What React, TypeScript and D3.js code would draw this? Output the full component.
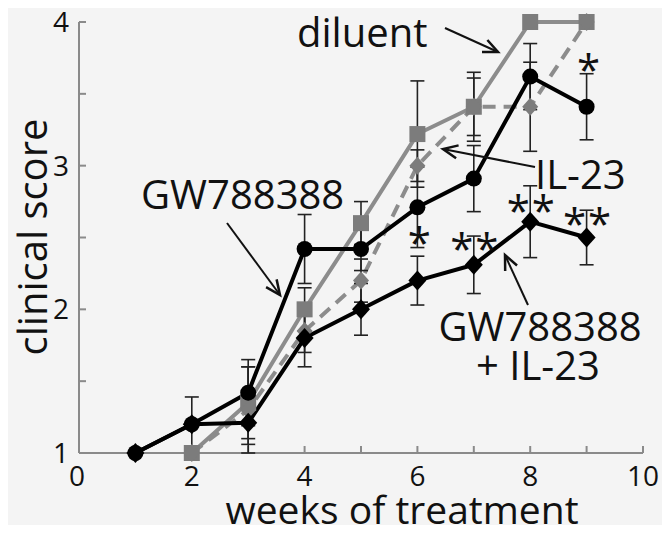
import React from "react";
import * as d3 from "d3";

const weeks = [1, 2, 3, 4, 5, 6, 7, 8, 9];
const diluent = [null, 1.0, 1.35, 2.0, 2.6, 3.22, 3.41, 4.0, 4.0];
const diluentErr = [0, 0, 0.25, 0.15, 0.15, 0.37, 0.24, 0, 0];
const il23 = [null, 1.0, 1.3, 1.85, 2.2, 3.0, 3.41, 3.41, 4.0];
const il23Err = [0, 0, 0.3, 0.15, 0.15, 0.11, 0.2, 0.31, 0];
const gw = [1.0, 1.2, 1.42, 2.42, 2.42, 2.71, 2.91, 3.62, 3.41];
const gwErr = [0, 0.19, 0.23, 0.24, 0.15, 0.28, 0.23, 0.23, 0.23];
const gwil = [1.0, 1.2, 1.21, 1.8, 2.0, 2.2, 2.31, 2.61, 2.5];
const gwilErr = [0, 0, 0.15, 0.2, 0.18, 0.17, 0.2, 0.25, 0.19];

const xTicks = [0, 2, 4, 6, 8, 10];
const yTicks = [1, 2, 3, 4];
const stars = [
  { week: 9, y: 3.74, n: 1 },
  { week: 6, y: 2.54, n: 1 },
  { week: 7, y: 2.5, n: 2 },
  { week: 8, y: 2.76, n: 2 },
  { week: 9, y: 2.67, n: 2 },
];

const FONT = "'Open Sans', 'Noto Sans', sans-serif";
const GRAY = "#8c8c8c";
const MARK_GRAY = "#7c7c7c";

function arrow(x1: number, y1: number, x2: number, y2: number, key: string) {
  const a = Math.atan2(y2 - y1, x2 - x1);
  const L = 16;
  const s = 0.42;
  const p1 = [x2 - L * Math.cos(a - s), y2 - L * Math.sin(a - s)];
  const p2 = [x2 - L * Math.cos(a + s), y2 - L * Math.sin(a + s)];
  return (
    <g key={key} stroke="#111" strokeWidth={2} fill="none">
      <line x1={x1} y1={y1} x2={x2} y2={y2} />
      <polyline points={`${p1[0]},${p1[1]} ${x2},${y2} ${p2[0]},${p2[1]}`} strokeWidth={2.5} />
    </g>
  );
}

export default function App() {
  const x = d3.scaleLinear().domain([0, 10]).range([79, 643]);
  const y = d3.scaleLinear().domain([1, 4]).range([453, 22]);

  const mk = (vals: (number | null)[]) =>
    weeks
      .map((w, i) => ({ w, v: vals[i] }))
      .filter((d) => d.v !== null) as { w: number; v: number }[];

  const line = d3
    .line<{ w: number; v: number }>()
    .x((d) => x(d.w))
    .y((d) => y(d.v));

  const series = [
    { data: mk(diluent), err: diluentErr, color: GRAY, dash: undefined, marker: "square" },
    { data: mk(il23), err: il23Err, color: GRAY, dash: "13 8", marker: "gdiamond" },
    { data: mk(gw), err: gwErr, color: "#000", dash: undefined, marker: "circle" },
    { data: mk(gwil), err: gwilErr, color: "#000", dash: undefined, marker: "diamond" },
  ];

  const errBars: JSX.Element[] = [];
  series.forEach((s, si) => {
    s.data.forEach((d) => {
      const e = s.err[d.w - 1];
      if (!e) return;
      const cx = x(d.w);
      const yt = y(d.v + e);
      const yb = y(d.v - e);
      errBars.push(
        <g key={`e${si}-${d.w}`} stroke="#222" strokeWidth={1.6}>
          <line x1={cx} x2={cx} y1={yt} y2={yb} />
          <line x1={cx - 7} x2={cx + 7} y1={yt} y2={yt} />
          <line x1={cx - 7} x2={cx + 7} y1={yb} y2={yb} />
        </g>
      );
    });
  });

  const marker = (m: string, cx: number, cy: number, key: string) => {
    if (m === "square")
      return <rect key={key} x={cx - 8} y={cy - 8} width={16} height={16} fill={MARK_GRAY} />;
    if (m === "circle") return <circle key={key} cx={cx} cy={cy} r={8} fill="#000" />;
    if (m === "diamond")
      return (
        <polygon
          key={key}
          points={`${cx},${cy - 10} ${cx + 9},${cy} ${cx},${cy + 10} ${cx - 9},${cy}`}
          fill="#000"
        />
      );
    return (
      <polygon
        key={key}
        points={`${cx},${cy - 9} ${cx + 8},${cy} ${cx},${cy + 9} ${cx - 8},${cy}`}
        fill={MARK_GRAY}
      />
    );
  };

  const yMinor = d3.range(1, 4.01, 0.5);
  const xMinor = d3.range(0, 10.01, 1);

  return (
    <svg
      width={671}
      height={535}
      style={{ position: "absolute", left: 0, top: 0 }}
      fontFamily={FONT}
    >
      <rect x={0} y={0} width={671} height={535} fill="#fff" />
      <rect x={8} y={8} width={654} height={517} fill="#f4f4f4" />

      {/* axes */}
      <g stroke="#8a8a8a" strokeWidth={2} fill="none">
        <line x1={x(0)} x2={x(0)} y1={y(4)} y2={y(1)} />
        <line x1={x(0)} x2={x(10)} y1={y(1)} y2={y(1)} />
        {yMinor.map((v) => (
          <line key={`yt${v}`} x1={x(0)} x2={x(0) + 7} y1={y(v)} y2={y(v)} />
        ))}
        {xMinor.map((v) => (
          <line key={`xt${v}`} x1={x(v)} x2={x(v)} y1={y(1)} y2={y(1) - 7} />
        ))}
      </g>
      <g fontSize={28} fill="#111">
        {yTicks.map((v) => (
          <text key={`yl${v}`} x={69} y={y(v)} dy="0.36em" textAnchor="end">
            {v}
          </text>
        ))}
        {xTicks.map((v) => (
          <text key={`xl${v}`} x={x(v) - (v === 0 ? 2 : 0)} y={486} textAnchor="middle">
            {v}
          </text>
        ))}
      </g>
      <text x={402} y={524} fontSize={39} textAnchor="middle" fill="#111">
        weeks of treatment
      </text>
      <text
        transform={`translate(47,237) rotate(-90)`}
        fontSize={40}
        textAnchor="middle"
        fill="#111"
      >
        clinical score
      </text>

      {/* lines */}
      {series.map((s, i) => (
        <path
          key={`l${i}`}
          d={line(s.data) || ""}
          fill="none"
          stroke={s.color}
          strokeWidth={4}
          strokeDasharray={s.dash}
          strokeLinejoin="round"
        />
      ))}
      {errBars}
      {series.map((s, i) => s.data.map((d) => marker(s.marker, x(d.w), y(d.v), `m${i}-${d.w}`)))}

      {/* significance */}
      <g fontSize={42} fill="#111" textAnchor="middle">
        {stars.map((s, i) =>
          s.n === 1 ? (
            <text key={`s${i}`} x={x(s.week) + 2} y={y(s.y)} dy="0.62em">
              *
            </text>
          ) : (
            <g key={`s${i}`}>
              <text x={x(s.week) - 12} y={y(s.y)} dy="0.62em">
                *
              </text>
              <text x={x(s.week) + 13} y={y(s.y)} dy="0.62em">
                *
              </text>
            </g>
          )
        )}
      </g>

      {/* annotations */}
      <g fontSize={40} fill="#111">
        <text x={297} y={47}>diluent</text>
        <text x={141} y={209}>GW788388</text>
        <text x={535} y={189}>IL-23</text>
        <text x={540} y={341} textAnchor="middle">GW788388</text>
        <text x={538} y={380} textAnchor="middle">+ IL-23</text>
      </g>
      {arrow(445, 28, 498, 52, "a1")}
      {arrow(227, 223, 280, 295, "a2")}
      {arrow(535, 167, 443, 149, "a3")}
      {arrow(528, 305, 505, 255, "a4")}
    </svg>
  );
}
